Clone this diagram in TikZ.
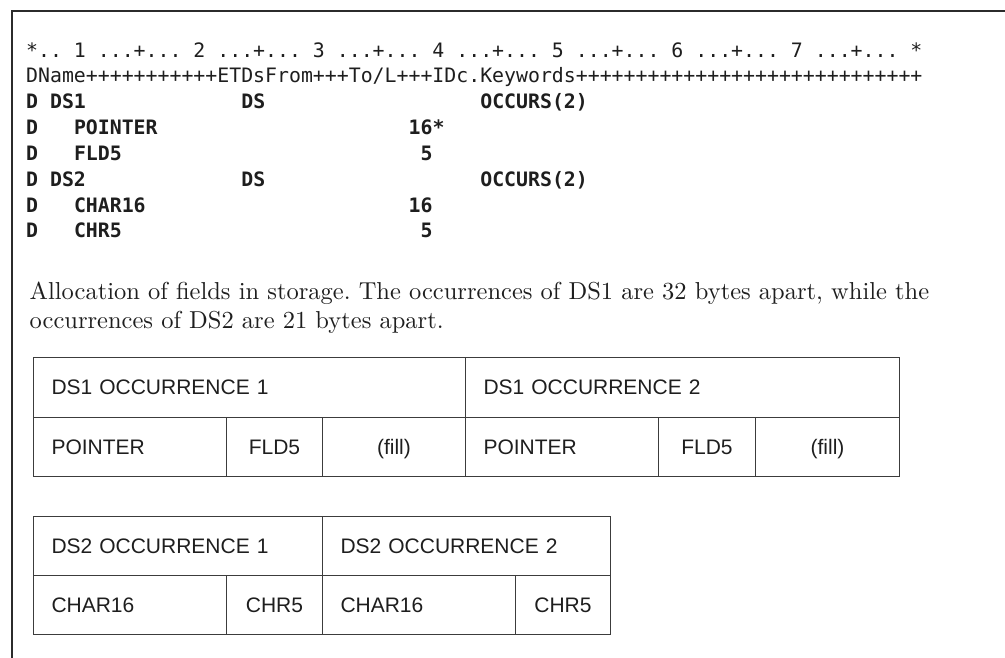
\documentclass[tikz,border=0pt]{standalone}
\usepackage{fontspec}
\setmonofont{DejaVu Sans Mono}
\newfontfamily\tablefont{Liberation Sans}
\newfontfamily\capfont{lmroman10-regular}[Extension=.otf]
\definecolor{frameline}{HTML}{2B2B2B}
\definecolor{gridline}{HTML}{3C3C3C}
\definecolor{ink}{HTML}{1E1E1E}

\tikzset{
  code/.style={anchor=base west,inner sep=0pt,text=ink,font=\fontsize{19.85}{24}\selectfont\ttfamily},
  spec/.style={code,font=\fontsize{19.85}{24}\selectfont\ttfamily\bfseries},
  caption/.style={anchor=base west,inner sep=0pt,text=ink,font=\capfont\fontsize{24.5}{29}\selectfont},
  cell/.style={draw=gridline,line width=1pt,anchor=north west,inner xsep=18pt,inner ysep=0pt,
    text=ink,text height=15pt,text depth=0pt,font=\tablefont\fontsize{21}{25}\selectfont},
  frame/.style={draw=frameline,line width=1.6pt}
}

% one piece of a source line, placed by its column
\providecommand{\Code}[4]{
\node[code] (#1) at ({26+(#2-1)*11.95},#3) {#4};
}
\providecommand{\Spec}[4]{
\node[spec] (#1) at ({26+(#2-1)*11.95},#3) {#4};
}
% storage cells: name, corner, width, height, text
\providecommand{\LCell}[6]{
\node[cell,minimum width=#3,minimum height=#4,text width=#5,align=left] (#1) at (#2) {#6};
}
\providecommand{\CCell}[5]{
\node[cell,minimum width=#3,minimum height=#4,align=center] (#1) at (#2) {#5};
}

\begin{document}
\frenchspacing
\begin{tikzpicture}[x=1pt,y=-1pt]
\useasboundingbox (0,0) rectangle (1005,658);
\draw[frame] (12,658) -- (12,11) -- (1005,11);

% source
\Code{ruler}{1}{57.2}{*.. 1 ...+... 2 ...+... 3 ...+... 4 ...+... 5 ...+... 6 ...+... 7 ...+... *}
\Code{header}{1}{83}{DName+++++++++++ETDsFrom+++To/L+++IDc.Keywords+++++++++++++++++++++++++++++}
\Spec{dsone}{1}{108.8}{D DS1}\Spec{dsonetype}{19}{108.8}{DS}\Spec{dsoneocc}{39}{108.8}{OCCURS(2)}
\Spec{dptr}{1}{134.6}{D}\Spec{pointer}{5}{134.6}{POINTER}\Spec{pointerlen}{33}{134.6}{16*}
\Spec{dfld}{1}{160.4}{D}\Spec{fldfive}{5}{160.4}{FLD5}\Spec{fldfivelen}{34}{160.4}{5}
\Spec{dstwo}{1}{186.2}{D DS2}\Spec{dstwotype}{19}{186.2}{DS}\Spec{dstwoocc}{39}{186.2}{OCCURS(2)}
\Spec{dchar}{1}{212}{D}\Spec{charsix}{5}{212}{CHAR16}\Spec{charsixlen}{33}{212}{16}
\Spec{dchr}{1}{237.8}{D}\Spec{chrfive}{5}{237.8}{CHR5}\Spec{chrfivelen}{34}{237.8}{5}

% caption
\node[caption] (capone) at (29.5,299) {Allocation of fields in storage. The occurrences of DS1 are 32 bytes apart, while the};
\node[caption] (captwo) at (29.5,328) {occurrences of DS2 are 21 bytes apart.};

% DS1 in storage
\LCell{oneocca}{33,357}{432}{59.5}{396pt}{DS1 OCCURRENCE 1}\LCell{oneoccb}{465,357}{434}{59.5}{398pt}{DS1 OCCURRENCE 2}
\LCell{onepa}{33,416.5}{193}{59.5}{157pt}{POINTER}\CCell{onefa}{226,416.5}{96}{59.5}{FLD5}\CCell{onexa}{322,416.5}{143}{59.5}{(fill)}
\LCell{onepb}{465,416.5}{193}{59.5}{157pt}{POINTER}\CCell{onefb}{658,416.5}{97}{59.5}{FLD5}\CCell{onexb}{755,416.5}{144}{59.5}{(fill)}

% DS2 in storage
\LCell{twoocca}{33,516}{289}{59}{253pt}{DS2 OCCURRENCE 1}\LCell{twooccb}{322,516}{288}{59}{252pt}{DS2 OCCURRENCE 2}
\LCell{twoca}{33,575}{193}{59}{157pt}{CHAR16}\CCell{twoha}{226,575}{96}{59}{CHR5}
\LCell{twocb}{322,575}{193}{59}{157pt}{CHAR16}\CCell{twohb}{515,575}{95}{59}{CHR5}
\end{tikzpicture}
\end{document}
